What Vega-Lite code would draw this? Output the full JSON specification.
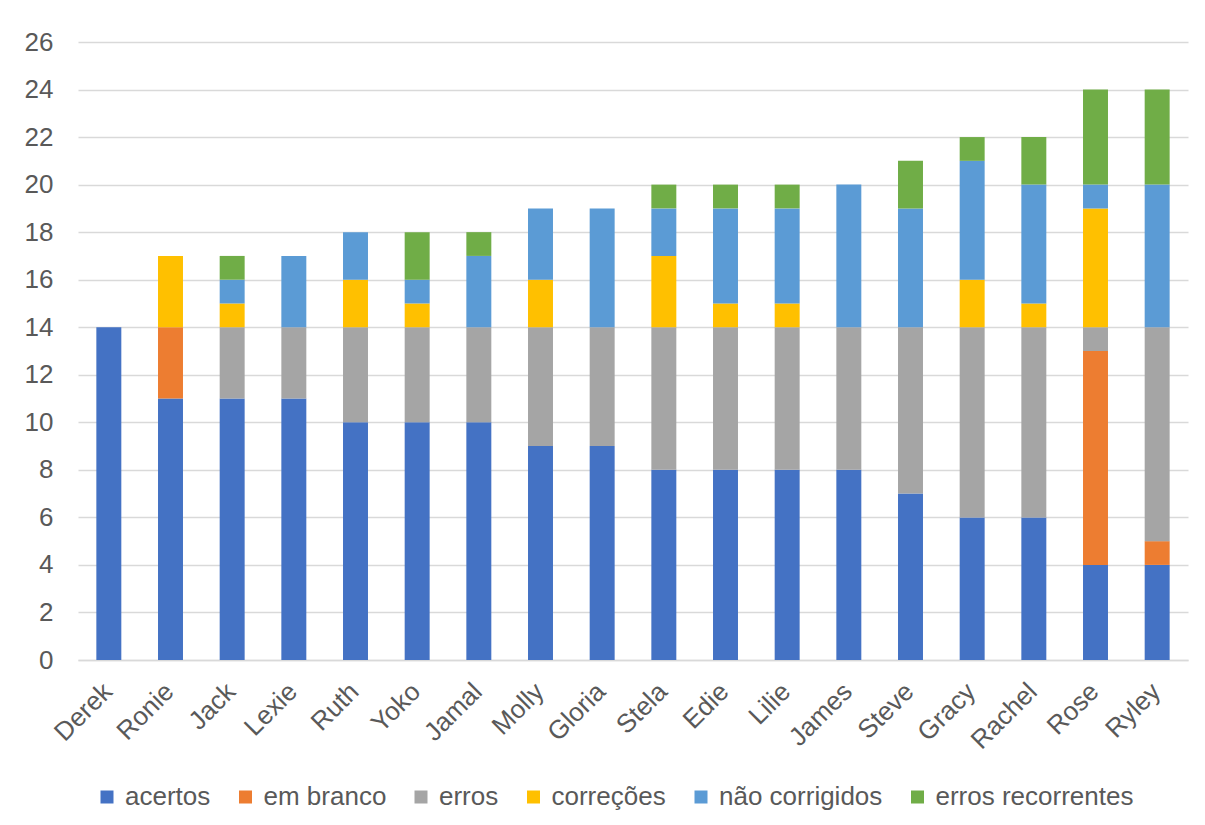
{
  "$schema": "https://vega.github.io/schema/vega-lite/v6.json",
  "width": 1110,
  "height": 618,
  "autosize": {"type": "none"},
  "padding": {"left": 78, "top": 42, "right": 17, "bottom": 165},
  "background": "white",
  "config": {
    "font": "Liberation Sans",
    "view": {"stroke": null}
  },
  "data": {
    "values": [
      {"aluno": "Derek", "cat": "acertos", "k": 1, "v": 14},
      {"aluno": "Ronie", "cat": "acertos", "k": 1, "v": 11},
      {"aluno": "Ronie", "cat": "em branco", "k": 2, "v": 3},
      {"aluno": "Ronie", "cat": "correções", "k": 4, "v": 3},
      {"aluno": "Jack", "cat": "acertos", "k": 1, "v": 11},
      {"aluno": "Jack", "cat": "erros", "k": 3, "v": 3},
      {"aluno": "Jack", "cat": "correções", "k": 4, "v": 1},
      {"aluno": "Jack", "cat": "não corrigidos", "k": 5, "v": 1},
      {"aluno": "Jack", "cat": "erros recorrentes", "k": 6, "v": 1},
      {"aluno": "Lexie", "cat": "acertos", "k": 1, "v": 11},
      {"aluno": "Lexie", "cat": "erros", "k": 3, "v": 3},
      {"aluno": "Lexie", "cat": "não corrigidos", "k": 5, "v": 3},
      {"aluno": "Ruth", "cat": "acertos", "k": 1, "v": 10},
      {"aluno": "Ruth", "cat": "erros", "k": 3, "v": 4},
      {"aluno": "Ruth", "cat": "correções", "k": 4, "v": 2},
      {"aluno": "Ruth", "cat": "não corrigidos", "k": 5, "v": 2},
      {"aluno": "Yoko", "cat": "acertos", "k": 1, "v": 10},
      {"aluno": "Yoko", "cat": "erros", "k": 3, "v": 4},
      {"aluno": "Yoko", "cat": "correções", "k": 4, "v": 1},
      {"aluno": "Yoko", "cat": "não corrigidos", "k": 5, "v": 1},
      {"aluno": "Yoko", "cat": "erros recorrentes", "k": 6, "v": 2},
      {"aluno": "Jamal", "cat": "acertos", "k": 1, "v": 10},
      {"aluno": "Jamal", "cat": "erros", "k": 3, "v": 4},
      {"aluno": "Jamal", "cat": "não corrigidos", "k": 5, "v": 3},
      {"aluno": "Jamal", "cat": "erros recorrentes", "k": 6, "v": 1},
      {"aluno": "Molly", "cat": "acertos", "k": 1, "v": 9},
      {"aluno": "Molly", "cat": "erros", "k": 3, "v": 5},
      {"aluno": "Molly", "cat": "correções", "k": 4, "v": 2},
      {"aluno": "Molly", "cat": "não corrigidos", "k": 5, "v": 3},
      {"aluno": "Gloria", "cat": "acertos", "k": 1, "v": 9},
      {"aluno": "Gloria", "cat": "erros", "k": 3, "v": 5},
      {"aluno": "Gloria", "cat": "não corrigidos", "k": 5, "v": 5},
      {"aluno": "Stela", "cat": "acertos", "k": 1, "v": 8},
      {"aluno": "Stela", "cat": "erros", "k": 3, "v": 6},
      {"aluno": "Stela", "cat": "correções", "k": 4, "v": 3},
      {"aluno": "Stela", "cat": "não corrigidos", "k": 5, "v": 2},
      {"aluno": "Stela", "cat": "erros recorrentes", "k": 6, "v": 1},
      {"aluno": "Edie", "cat": "acertos", "k": 1, "v": 8},
      {"aluno": "Edie", "cat": "erros", "k": 3, "v": 6},
      {"aluno": "Edie", "cat": "correções", "k": 4, "v": 1},
      {"aluno": "Edie", "cat": "não corrigidos", "k": 5, "v": 4},
      {"aluno": "Edie", "cat": "erros recorrentes", "k": 6, "v": 1},
      {"aluno": "Lilie", "cat": "acertos", "k": 1, "v": 8},
      {"aluno": "Lilie", "cat": "erros", "k": 3, "v": 6},
      {"aluno": "Lilie", "cat": "correções", "k": 4, "v": 1},
      {"aluno": "Lilie", "cat": "não corrigidos", "k": 5, "v": 4},
      {"aluno": "Lilie", "cat": "erros recorrentes", "k": 6, "v": 1},
      {"aluno": "James", "cat": "acertos", "k": 1, "v": 8},
      {"aluno": "James", "cat": "erros", "k": 3, "v": 6},
      {"aluno": "James", "cat": "não corrigidos", "k": 5, "v": 6},
      {"aluno": "Steve", "cat": "acertos", "k": 1, "v": 7},
      {"aluno": "Steve", "cat": "erros", "k": 3, "v": 7},
      {"aluno": "Steve", "cat": "não corrigidos", "k": 5, "v": 5},
      {"aluno": "Steve", "cat": "erros recorrentes", "k": 6, "v": 2},
      {"aluno": "Gracy", "cat": "acertos", "k": 1, "v": 6},
      {"aluno": "Gracy", "cat": "erros", "k": 3, "v": 8},
      {"aluno": "Gracy", "cat": "correções", "k": 4, "v": 2},
      {"aluno": "Gracy", "cat": "não corrigidos", "k": 5, "v": 5},
      {"aluno": "Gracy", "cat": "erros recorrentes", "k": 6, "v": 1},
      {"aluno": "Rachel", "cat": "acertos", "k": 1, "v": 6},
      {"aluno": "Rachel", "cat": "erros", "k": 3, "v": 8},
      {"aluno": "Rachel", "cat": "correções", "k": 4, "v": 1},
      {"aluno": "Rachel", "cat": "não corrigidos", "k": 5, "v": 5},
      {"aluno": "Rachel", "cat": "erros recorrentes", "k": 6, "v": 2},
      {"aluno": "Rose", "cat": "acertos", "k": 1, "v": 4},
      {"aluno": "Rose", "cat": "em branco", "k": 2, "v": 9},
      {"aluno": "Rose", "cat": "erros", "k": 3, "v": 1},
      {"aluno": "Rose", "cat": "correções", "k": 4, "v": 5},
      {"aluno": "Rose", "cat": "não corrigidos", "k": 5, "v": 1},
      {"aluno": "Rose", "cat": "erros recorrentes", "k": 6, "v": 4},
      {"aluno": "Ryley", "cat": "acertos", "k": 1, "v": 4},
      {"aluno": "Ryley", "cat": "em branco", "k": 2, "v": 1},
      {"aluno": "Ryley", "cat": "erros", "k": 3, "v": 9},
      {"aluno": "Ryley", "cat": "não corrigidos", "k": 5, "v": 6},
      {"aluno": "Ryley", "cat": "erros recorrentes", "k": 6, "v": 4}
    ]
  },
  "mark": {"type": "bar"},
  "encoding": {
    "x": {
      "field": "aluno",
      "type": "nominal",
      "sort": null,
      "scale": {"paddingInner": 0.595, "paddingOuter": 0.2975},
      "axis": {
        "title": null,
        "labelAngle": -45,
        "labelFontSize": 26,
        "labelColor": "#595959",
        "labelPadding": 18,
        "labelOffset": -10,
        "ticks": false,
        "domain": true,
        "domainColor": "#D9D9D9",
        "domainWidth": 1.3,
        "grid": false
      }
    },
    "y": {
      "field": "v",
      "type": "quantitative",
      "stack": "zero",
      "scale": {"domain": [0, 26], "nice": false},
      "axis": {
        "title": null,
        "values": [0, 2, 4, 6, 8, 10, 12, 14, 16, 18, 20, 22, 24, 26],
        "labelFontSize": 26,
        "labelColor": "#595959",
        "labelPadding": 25,
        "ticks": false,
        "domain": false,
        "grid": true,
        "gridColor": "#D9D9D9",
        "gridWidth": 1.3
      }
    },
    "color": {
      "field": "cat",
      "type": "nominal",
      "scale": {
        "domain": ["acertos", "em branco", "erros", "correções", "não corrigidos", "erros recorrentes"],
        "range": ["#4472C4", "#ED7D31", "#A5A5A5", "#FFC000", "#5B9BD5", "#70AD47"]
      },
      "legend": {
        "title": null,
        "orient": "none",
        "direction": "horizontal",
        "legendX": 16,
        "legendY": 742,
        "symbolType": "square",
        "symbolSize": 169,
        "symbolStrokeWidth": 0,
        "labelFontSize": 26,
        "labelColor": "#595959",
        "labelOffset": 5,
        "labelLimit": 0,
        "columnPadding": 21.5
      }
    },
    "order": {"field": "k", "type": "quantitative"}
  }
}
